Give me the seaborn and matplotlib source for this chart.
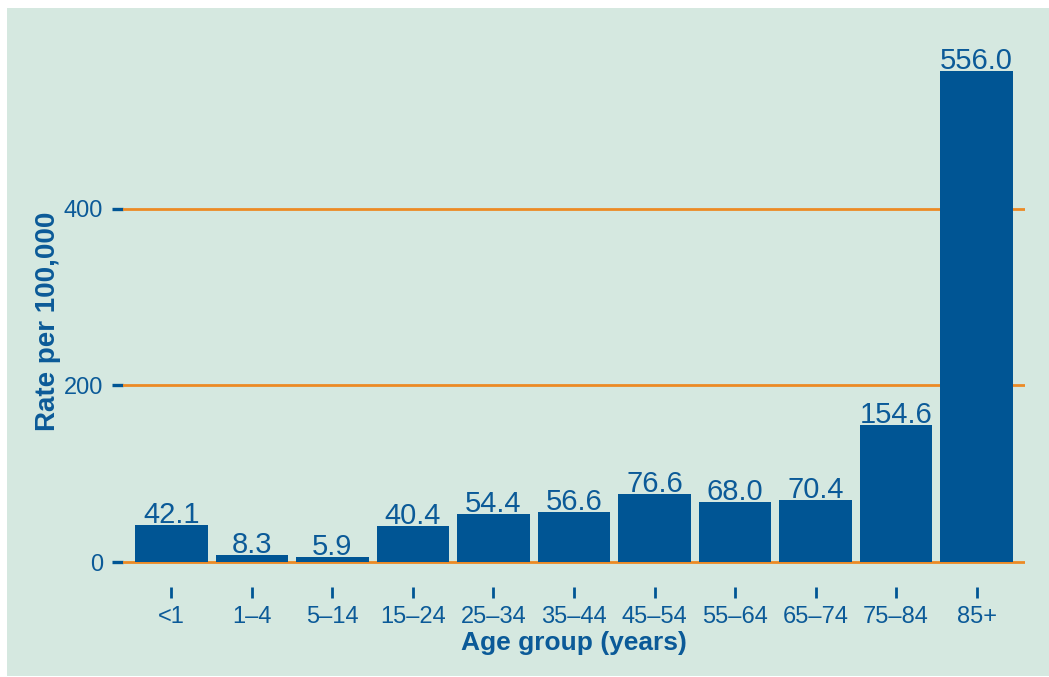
import matplotlib
matplotlib.use("Agg")
import matplotlib.pyplot as plt
from matplotlib.patches import Rectangle
import seaborn as sns
import pandas as pd

# Rates per 100,000 by age group
age_groups = ["<1", "1\u20134", "5\u201314", "15\u201324", "25\u201334", "35\u201344",
              "45\u201354", "55\u201364", "65\u201374", "75\u201384", "85+"]
rates = [42.1, 8.3, 5.9, 40.4, 54.4, 56.6, 76.6, 68.0, 70.4, 154.6, 556.0]
y_ticks = [0, 200, 400]

BG = "#D5E8E0"
BAR = "#005594"
TEXT = "#0B5A98"
GRID = "#EC8A25"

sns.set_theme(style="white")
plt.rcParams["font.family"] = ["Liberation Sans", "DejaVu Sans"]

df = pd.DataFrame({"age": age_groups, "rate": rates})

fig = plt.figure(figsize=(10.49, 6.77), dpi=100, facecolor="white")
panel = Rectangle((7 / 1049, 1 / 677), 1.0, 668 / 677,
                  transform=fig.transFigure, facecolor=BG,
                  edgecolor="none", zorder=-10)
fig.add_artist(panel)

ax = fig.add_axes([123 / 1049, 90 / 677, 902 / 1049, 546 / 677])
ax.set_facecolor("none")

sns.barplot(data=df, x="age", y="rate", color=BAR, width=0.9,
            saturation=1, linewidth=0, edgecolor=BAR, ax=ax, zorder=3)

ax.set_xlim(-0.6, 10.6)
ax.set_ylim(-28.3, 590)
ax.set_yticks(y_ticks)
ax.set_yticklabels([str(v) for v in y_ticks])

for s in ax.spines.values():
    s.set_visible(False)

ax.grid(False)
for v in y_ticks:
    ax.axhline(v, color=GRID, lw=2.0, zorder=1)

ax.tick_params(axis="y", direction="out", length=8, width=2.4, color=BAR,
               labelcolor=TEXT, labelsize=17, pad=6.5, left=True)
ax.tick_params(axis="x", direction="out", length=8, width=2.0, color=BAR,
               labelcolor=TEXT, labelsize=17, pad=5.5, bottom=True)

# value labels above each bar
for i, v in enumerate(rates):
    ax.annotate(f"{v:.1f}", (i, v), xytext=(0, 1.5), textcoords="offset points",
                ha="center", va="baseline", fontsize=21, color=TEXT, zorder=4)

ax.set_xlabel("Age group (years)", fontsize=19, fontweight="bold",
              color=TEXT, labelpad=2)
ax.set_ylabel("Rate per 100,000", fontsize=20, fontweight="bold",
              color=TEXT, labelpad=8)
ax.yaxis.set_label_coords(-62 / 902, (587 - 321) / 546)

fig.savefig("out.png", dpi=100, facecolor="white")
